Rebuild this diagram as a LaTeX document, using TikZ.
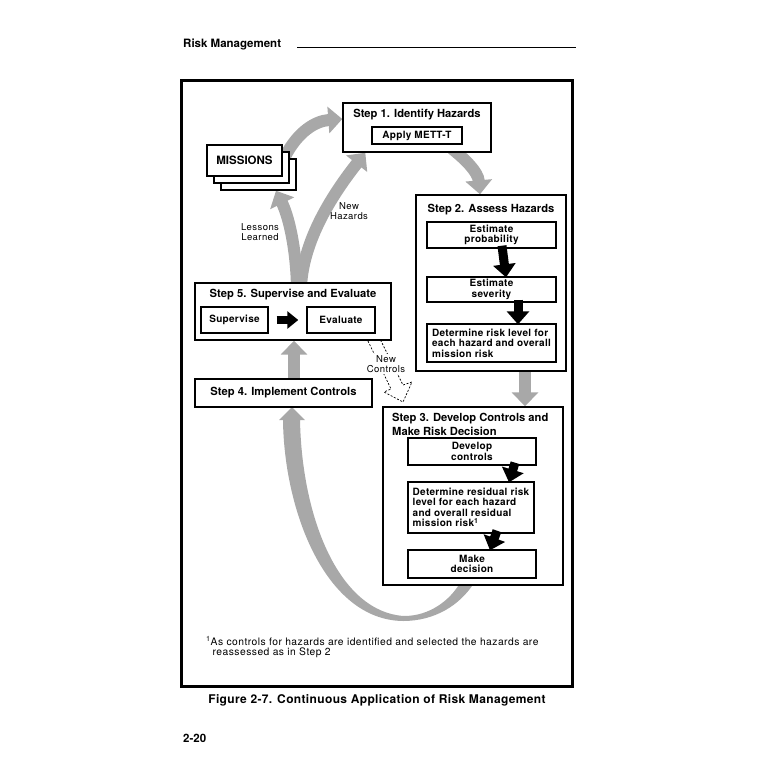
\documentclass[tikz,border=0pt]{standalone}
\usepackage{fontspec}
\setmainfont{TeX Gyre Heros}
\newfontfamily\trk[LetterSpace=3]{TeX Gyre Heros}
\newfontfamily\trkl[LetterSpace=4.5]{TeX Gyre Heros}
\usetikzlibrary{arrows.meta,calc}
\definecolor{agrey}{gray}{0.66}
\begin{document}
\begin{tikzpicture}[x=1pt,y=-1pt,
  bx/.style={draw, fill=white, line width=1.4pt, inner sep=0pt, align=center},
  ttl/.style={font=\bfseries\fontsize{11.2}{14}\selectfont, inner sep=0pt},
  inr/.style={font=\trk\bfseries\fontsize{10}{10.5}\selectfont},
  lbl/.style={font=\trkl\fontsize{9.5}{10}\selectfont, align=center, inner sep=1pt},
  garrow/.style={draw=agrey, line width=12pt, -{Triangle[width=26pt,length=14pt]}},
  barrow/.style={draw=black, line width=9pt, -{Triangle[width=22pt,length=13pt]}},
  sarrow/.style={draw=black, line width=8pt, -{Triangle[width=17pt,length=11pt]}},
  dsh/.style={draw=black, line width=0.7pt, dash pattern=on 2pt off 1.6pt}
]
\useasboundingbox (0,0) rectangle (769,769);

% header
\node[ttl, font=\bfseries\fontsize{11.5}{14}\selectfont, anchor=west] (hdr) at (183,44) {Risk Management};
\coordinate (hl1) at (297,47.5);
\coordinate (hl2) at (576,47.5);
\draw[line width=1pt] (hl1) -- (hl2);

% frame
\node[draw, line width=2.4pt, minimum width=391, minimum height=606, inner sep=0pt] (frame) at (377,383.5) {};

% Step 3 -> Step 4 ribbon
\coordinate (rtip) at (292,407);
\fill[agrey] (300,420) -- (305,420) -- (rtip) -- (279,420) -- (283,420)
  .. controls (284,510) and (325,620) .. (403,621)
  .. controls (435,621) and (460,605) .. (474,583)
  -- (460,583)
  .. controls (450,600) and (430,616) .. (404,616)
  .. controls (340,612) and (302,520) .. (300,420) -- cycle;

% boxes needed for anchors
\node[bx, minimum width=148, minimum height=49] (s1) at (417,127.5) {};
\node[bx, minimum width=150, minimum height=176] (s2) at (491,283) {};
\node[bx, minimum width=180, minimum height=178] (s3) at (473,496) {};
\node[bx, minimum width=177, minimum height=28] (s4) at (283.5,393) {};
\node[bx, minimum width=196, minimum height=57] (s5) at (293,311.5) {};
\node[bx, minimum width=75, minimum height=31] (m3) at (258.5,174.5) {};
\node[bx, minimum width=75, minimum height=31] (m2) at (251.5,167.5) {};
\node[bx, minimum width=75, minimum height=31] (m1) at (244.5,160.5) {};

% grey arrows
\draw[garrow] ($(m2.north east)+(-4,4)$) .. controls (298,132) and (315,121) .. ($(s1.west)+(0,-8.5)$);
\draw[garrow] ($(s1.south)+(35,-4)$) .. controls (466,160) and (478,172) .. ($(s2.north)+(-11,0)$);
\draw[garrow] ($(s5.north)+(4,5)$) .. controls (296,245) and (288,215) .. ($(m3.south)+(17.5,0)$);
\draw[garrow] ($(s5.north)+(8,5)$) .. controls (303,235) and (340,185) .. ($(s1.south west)+(23,0)$);
\draw[garrow] ($(s4.north)+(10.5,2)$) -- ($(s5.south)+(1,0)$);
\draw[garrow] ($(s2.south)+(34,-2)$) -- ($(s3.north)+(52,0)$);

% redraw boxes on top of arrow starts
\node[bx, minimum width=148, minimum height=49] (s1b) at (s1) {};
\node[bx, minimum width=75, minimum height=31] (m3b) at (m3) {};
\node[bx, minimum width=75, minimum height=31] (m2b) at (m2) {};
\node[bx, minimum width=75, minimum height=31, font=\bfseries\fontsize{11.5}{13}\selectfont] (m1b) at (m1) {MISSIONS};
\node[bx, minimum width=196, minimum height=57] (s5b) at (s5) {};
\node[bx, minimum width=177, minimum height=28, ttl] (s4b) at (s4) {Step 4. Implement Controls};
\node[bx, minimum width=150, minimum height=176] (s2b) at (s2) {};
\node[bx, minimum width=180, minimum height=178] (s3b) at (s3) {};

% Step 1
\node[ttl] (t1) at (417,115) {Step 1. Identify Hazards};
\node[bx, inr, minimum width=90, minimum height=17] (mett) at (417,135.5) {Apply METT-T};

% Step 2
\node[ttl] (t2) at (491,210) {Step 2. Assess Hazards};
\node[bx, inr, minimum width=129, minimum height=26] (e1) at (491.5,235) {Estimate\\probability};
\node[bx, inr, minimum width=129, minimum height=25] (e2) at (491.5,289.5) {Estimate\\severity};
\node[bx, inr, minimum width=129, minimum height=38, align=left] (e3) at (491.5,343) {Determine risk level for\\each hazard and overall\\mission risk};
\draw[barrow] ($(e1.south)+(10.5,-3)$) -- ($(e2.north)+(14.5,1)$);
\draw[barrow] ($(e2.south)+(26.5,-3)$) -- ($(e3.north)+(26.5,1)$);

% Step 3
\node[ttl, align=left, anchor=north west] (t3) at (392,413) {Step 3. Develop Controls and\\Make Risk Decision};
\node[bx, inr, minimum width=128, minimum height=27] (d1) at (472,451.5) {Develop\\controls};
\node[bx, inr, minimum width=126, minimum height=51, align=left] (d2) at (471,507.5) {Determine residual risk\\level for each hazard\\and overall residual\\mission risk\textsuperscript{1}};
\node[bx, inr, minimum width=128, minimum height=28] (d3) at (472,564) {Make\\decision};
\draw[barrow] ($(d1.south)+(43,-3)$) -- ($(d2.north)+(38,1)$);
\draw[barrow] ($(d2.south)+(26,-3)$) -- ($(d3.north)+(18,1)$);

% Step 5
\node[ttl] (t5) at (293,295) {Step 5. Supervise and Evaluate};
\node[bx, inr, minimum width=67, minimum height=26] (sup) at (234.5,320) {Supervise};
\node[bx, inr, minimum width=68, minimum height=26] (eva) at (341,320) {Evaluate};
\draw[sarrow] ($(sup.east)+(8,0)$) -- ($(eva.west)+(-8,0)$);

% dashed hollow arrow (new controls)
\coordinate (da1) at (368,341);
\coordinate (da2) at (391,389);
\coordinate (dwl) at (384,392);
\coordinate (dtip) at (403,402);
\coordinate (dwr) at (412,382);
\coordinate (db2) at (403,385);
\coordinate (db1) at (381,341);
\draw[dsh] (da1) -- (da2) -- (dwl) -- (dtip) -- (dwr) -- (db2) -- (db1);

% labels
\node[lbl] (lessons) at (260,232) {Lessons\\Learned};
\node[lbl] (newhaz) at (349,211) {New\\Hazards};
\node[lbl, fill=white] (newcon) at (386,364) {New\\Controls};

% footnote
\node[font=\trkl\fontsize{10.3}{12}\selectfont, anchor=west, inner sep=0pt] (fn1) at (206,641) {\textsuperscript{1}As controls for hazards are identified and selected the hazards are};
\node[font=\trkl\fontsize{10.3}{12}\selectfont, anchor=west, inner sep=0pt] (fn2) at (212.5,653) {reassessed as in Step 2};

% caption and page number
\node[font=\trk\bfseries\fontsize{12}{14}\selectfont, inner sep=0pt] (cap) at (377,700) {Figure 2-7. Continuous Application of Risk Management};
\node[ttl, font=\bfseries\fontsize{11.5}{14}\selectfont, anchor=west] (pg) at (183,738) {2-20};
\end{tikzpicture}
\end{document}
